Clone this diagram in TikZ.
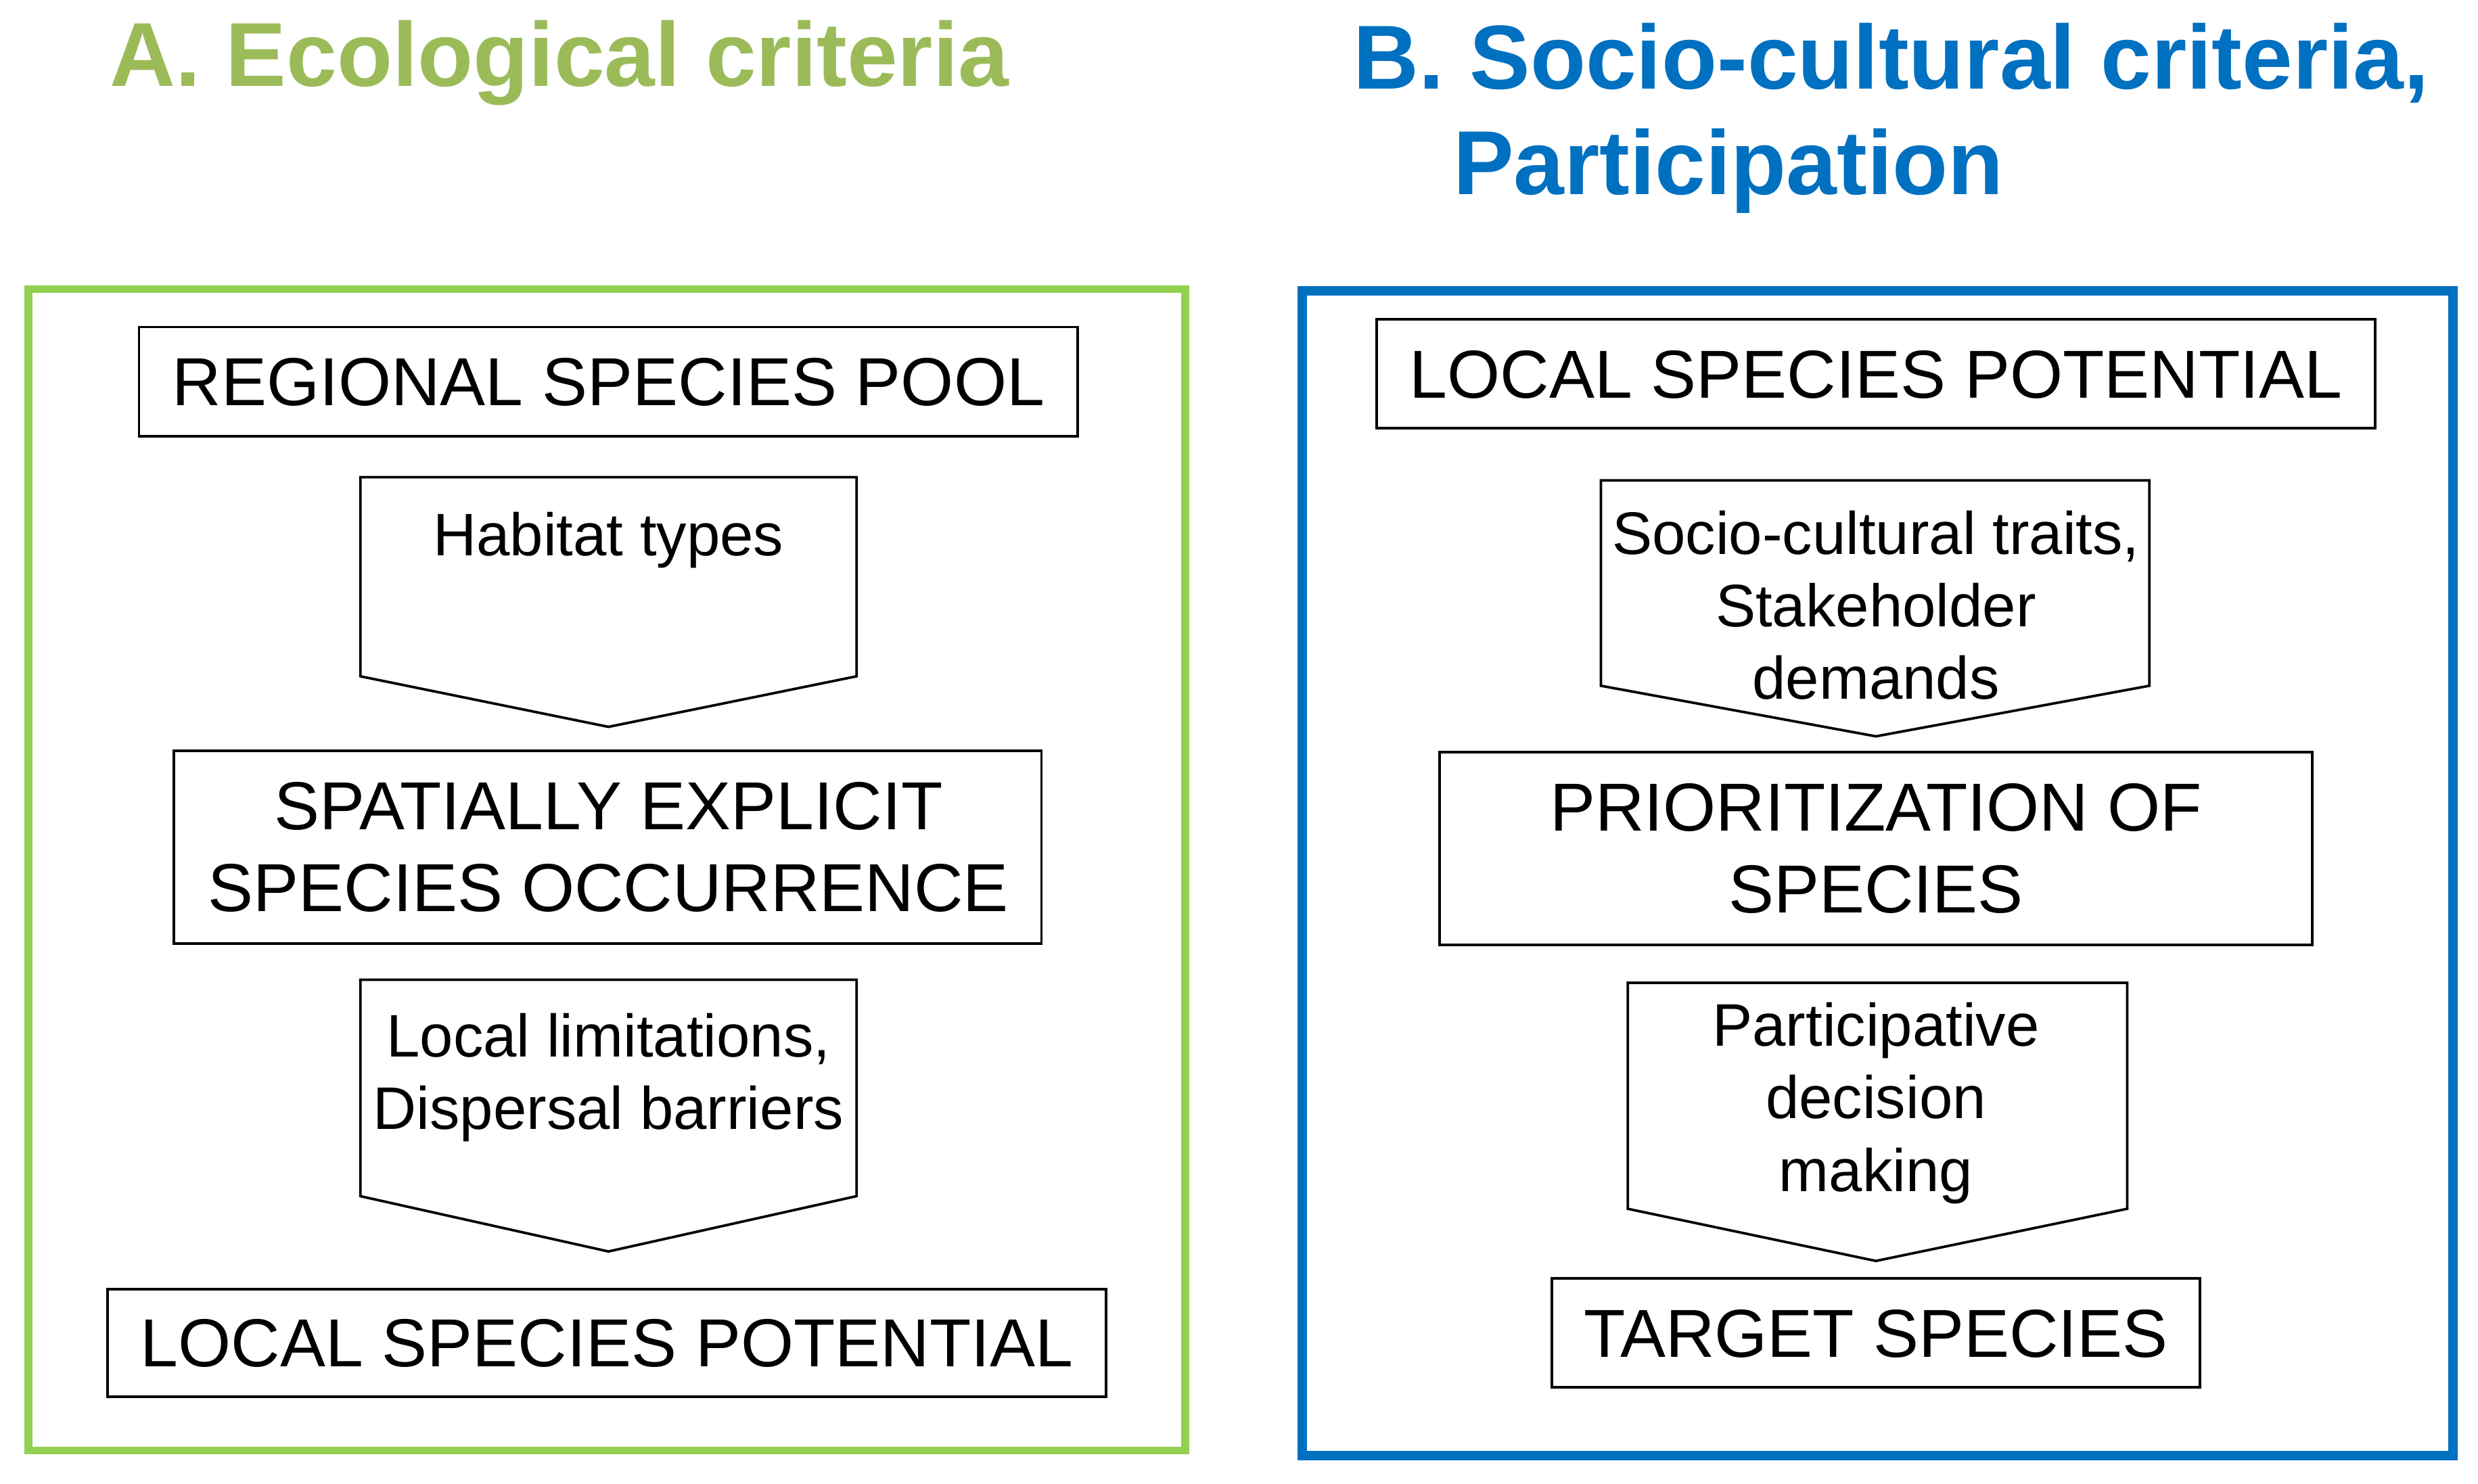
\documentclass[tikz,border=0pt]{standalone}
\usepackage{fontspec}
\setmainfont{Liberation Sans}
\definecolor{gfr}{HTML}{92D050}
\definecolor{gtt}{HTML}{9BBB59}
\definecolor{bl}{HTML}{0070C0}
\tikzset{
 box/.style={draw,line width=1.6pt,inner sep=0pt},
 big/.style={font=\fontsize{43}{52}\selectfont,align=center},
 small/.style={font=\fontsize{38}{46}\selectfont,align=center},
 ttl/.style={font=\fontsize{57.5}{68}\selectfont\bfseries,anchor=west},
 arr/.style={draw,line width=1.6pt,line join=miter}
}
\begin{document}
\begin{tikzpicture}[x=1pt,y=-1pt]
\useasboundingbox (0,0) rectangle (1568,939);
\fill[white] (0,0) rectangle (1568,939);
\node[ttl,text=gtt] (ta) at (66,40) {A. Ecological criteria};
\node[ttl,text=bl] (tb) at (853,40) {B. Socio-cultural criteria,};
\node[ttl,text=bl] (tc) at (916,108) {Participation};
\draw[gfr,line width=5pt] (18,183) rectangle (750,918);
\draw[bl,line width=6pt] (824,184) rectangle (1552,921);
% left
\draw[box] (88,207) rectangle (682,276);
\node[big] (l1) at (385,242) {REGIONAL SPECIES POOL};
\draw[arr] (228,302) -- (542,302) -- (542,428) -- (385,460) -- (228,428) -- cycle;
\node[small] (la) at (385,342) {Habitat types};
\draw[box] (110,475) rectangle (659,597);
\node[big] (l2) at (385,536) {SPATIALLY EXPLICIT\\SPECIES OCCURRENCE};
\draw[arr] (228,620) -- (542,620) -- (542,757) -- (385,792) -- (228,757) -- cycle;
\node[small] (lb) at (385,682) {Local limitations,\\Dispersal barriers};
\draw[box] (68,816) rectangle (700,884);
\node[big] (l3) at (384,850) {LOCAL SPECIES POTENTIAL};
% right
\draw[box] (871,202) rectangle (1503,271);
\node[big] (r1) at (1187,237) {LOCAL SPECIES POTENTIAL};
\draw[arr] (1013,304) -- (1360,304) -- (1360,434) -- (1187,466) -- (1013,434) -- cycle;
\node[small] (ra) at (1187,383) {Socio-cultural traits,\\Stakeholder\\demands};
\draw[box] (911,476) rectangle (1463,598);
\node[big] (r2) at (1187,537) {PRIORITIZATION OF\\SPECIES};
\draw[arr] (1030,622) -- (1346,622) -- (1346,765) -- (1187,798) -- (1030,765) -- cycle;
\node[small] (rb) at (1187,698) {Participative\\decision\\making};
\draw[box] (982,809) rectangle (1392,878);
\node[big] (r3) at (1187,844) {TARGET SPECIES};
\end{tikzpicture}
\end{document}
